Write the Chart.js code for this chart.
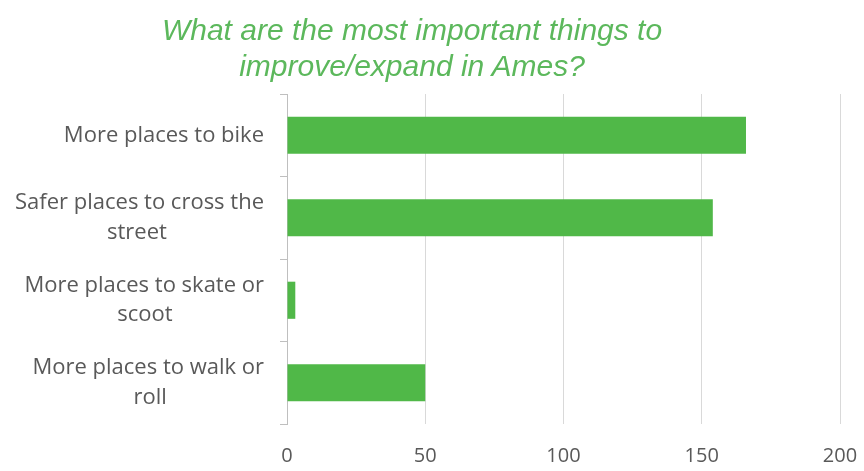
<!DOCTYPE html>
<html>
<head>
<meta charset="utf-8">
<script src="https://cdn.jsdelivr.net/npm/chart.js@4/dist/chart.umd.min.js"></script>
<style>
  html, body { margin: 0; padding: 0; background: #fff; }
  #wrap { position: relative; width: 864px; height: 471px; }
  #title {
    position: absolute; left: 112px; top: 12px; width: 600px;
    text-align: center; font-family: "Liberation Sans", Arial, sans-serif;
    font-style: italic; font-size: 30px; line-height: 36px; color: #5cb85c;
  }
</style>
</head>
<body>
<div id="wrap">
  <canvas id="chart" width="864" height="471"></canvas>
  <div id="title">What are the most important things to<br>improve/expand in Ames?</div>
</div>
<script>
// data
var categories = [
    ['More places to bike'],
    ['Safer places to cross the', 'street'],
    ['More places to skate or', 'scoot'],
    ['More places to walk or', 'roll']
];
var responses = [166, 154, 3, 50];
var xTicks = [0, 50, 100, 150, 200];

var labelFont = { family: 'Open Sans', size: 22, lineHeight: 1.33 };

// pad short lines with trailing spaces so each label block looks centred
function centerLines(lines) {
    var ctx = document.createElement('canvas').getContext('2d');
    ctx.font = labelFont.size + 'px "' + labelFont.family + '"';
    var widest = Math.max.apply(null, lines.map(function (l) { return ctx.measureText(l).width; }));
    var sp = ctx.measureText(' ').width;
    return lines.map(function (l) {
        var n = Math.round((widest - ctx.measureText(l).width) / 2 / sp);
        return l + ' '.repeat(n);
    });
}

new Chart(document.getElementById('chart'), {
    type: 'bar',
    data: {
        labels: categories.map(centerLines),
        datasets: [{
            data: responses,
            backgroundColor: '#50b848',
            barPercentage: 0.45,
            categoryPercentage: 1
        }]
    },
    options: {
        indexAxis: 'y',
        responsive: false,
        animation: false,
        layout: { padding: { top: 94, right: 24, left: 0, bottom: 0 } },
        plugins: {
            legend: { display: false },
            tooltip: { enabled: false }
        },
        scales: {
            x: {
                min: 0,
                max: 200,
                afterBuildTicks: function (scale) {
                    scale.ticks = xTicks.map(function (v) { return { value: v }; });
                },
                afterFit: function (scale) {
                    scale.height = 47;
                    scale.paddingLeft = 0;
                    scale.paddingRight = 0;
                },
                grid: { color: '#d9d9d9', drawTicks: false },
                border: { display: false },
                ticks: { color: '#595959', font: { family: 'Open Sans', size: 20 }, padding: 20 }
            },
            y: {
                afterFit: function (scale) { scale.width = 287; },
                grid: { offset: true, drawOnChartArea: false, tickLength: 7, color: '#bfbfbf' },
                border: { display: true, color: '#bfbfbf' },
                ticks: { color: '#595959', font: labelFont, padding: 16 }
            }
        }
    }
});
</script>
</body>
</html>
